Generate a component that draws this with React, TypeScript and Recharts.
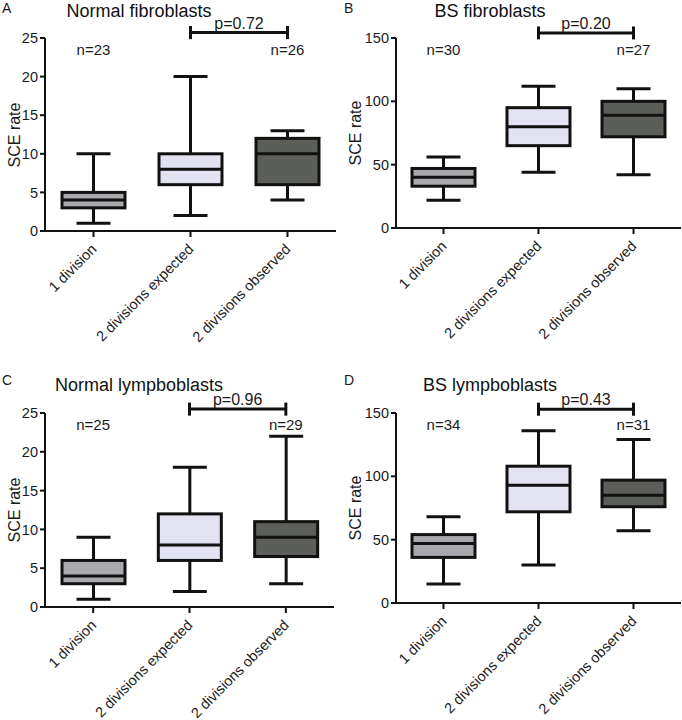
import React from "react";
import { Bar, ComposedChart, ReferenceDot, ReferenceLine, XAxis, YAxis } from "recharts";

const categories = ["1 division", "2 divisions expected", "2 divisions observed"];

// five-number summaries per category: [min, q1, median, q3, max]
const normalFibroblasts = [
  [1, 3, 4, 5, 10],
  [2, 6, 8, 10, 20],
  [4, 6, 10, 12, 13],
];
const bsFibroblasts = [
  [22, 33, 40, 47, 56],
  [44, 65, 80, 95, 112],
  [42, 72, 89, 100, 110],
];
const normalLymphoblasts = [
  [1, 3, 4, 6, 9],
  [2, 6, 8, 12, 18],
  [3, 6.5, 9, 11, 22],
];
const bsLymphoblasts = [
  [15, 36, 47, 54, 68],
  [30, 72, 93, 108, 136],
  [57, 76, 85, 97, 129],
];

// n shown above "1 division" and "2 divisions observed"
const nNormalFib = [23, 26];
const nBsFib = [30, 27];
const nNormalLym = [25, 29];
const nBsLym = [34, 31];

const pValues = ["0.72", "0.20", "0.96", "0.43"];
const titles = ["Normal fibroblasts", "BS fibroblasts", "Normal lympboblasts", "BS lympboblasts"];
const letters = ["A", "B", "C", "D"];

const ticks25 = [0, 5, 10, 15, 20, 25];
const ticks150 = [0, 50, 100, 150];

const boxFills = ["#a9a9ad", "#e2e2f1", "#5c5e59"];
const ink = "#111";
const textColor = "#1a1a1a";
const font = '"Liberation Sans", Arial, sans-serif';

function BoxShape(props: any) {
  const { x, y, width, height, payload } = props;
  const [mn, q1, med, q3, mx] = payload.stats;
  const py = (v: number) => y + (height * (mx - v)) / (mx - mn);
  const cx = x + width / 2;
  const cap = 17;
  return (
    <g stroke={ink} strokeWidth={3}>
      <line x1={cx} x2={cx} y1={py(mx)} y2={py(q3)} />
      <line x1={cx} x2={cx} y1={py(q1)} y2={py(mn)} />
      <line x1={cx - cap} x2={cx + cap} y1={py(mx)} y2={py(mx)} />
      <line x1={cx - cap} x2={cx + cap} y1={py(mn)} y2={py(mn)} />
      <rect x={x} y={py(q3)} width={width} height={py(q1) - py(q3)} fill={payload.fill} />
      <line x1={x} x2={x + width} y1={py(med)} y2={py(med)} />
    </g>
  );
}

function RotatedTick({ x, y, payload }: any) {
  const ax = x + 4;
  const ay = y + 11;
  return (
    <text
      x={ax}
      y={ay}
      transform={`rotate(-45 ${ax} ${ay})`}
      textAnchor="end"
      fontSize={14.5}
      fontFamily={font}
      fill={textColor}
    >
      {payload.value}
    </text>
  );
}

const panels = [
  { stats: normalFibroblasts, n: nNormalFib, left: 0, top: 0, margin: { top: 38, right: 5, bottom: 29, left: 20 }, domain: [0, 25], ticks: ticks25, pY: 25.7, pH: 0.85, nY: 23.5, titleY: 17 },
  { stats: bsFibroblasts, n: nBsFib, left: 341, top: 0, margin: { top: 38, right: 1, bottom: 32, left: 30 }, domain: [0, 150], ticks: ticks150, pY: 154, pH: 5.1, nY: 141, titleY: 17 },
  { stats: normalLymphoblasts, n: nNormalLym, left: 0, top: 360, margin: { top: 53, right: 7, bottom: 13, left: 20 }, domain: [0, 25], ticks: ticks25, pY: 25.5, pH: 0.84, nY: 23.5, titleY: 31 },
  { stats: bsLymphoblasts, n: nBsLym, left: 341, top: 360, margin: { top: 53, right: 1, bottom: 17, left: 30 }, domain: [0, 150], ticks: ticks150, pY: 153, pH: 5.15, nY: 140.8, titleY: 31 },
];

function Panel({ idx }: { idx: number }) {
  const p = panels[idx];
  const data = categories.map((c, i) => ({ name: c, stats: p.stats[i], fill: boxFills[i] }));
  const plotTop = p.margin.top;
  const plotBottom = 360 - p.margin.bottom - 100;
  const nLabel = (v: number) => ({ value: `n=${v}`, position: "center" as const, fontSize: 15, fill: textColor, fontFamily: font });
  return (
    <div style={{ position: "absolute", left: p.left, top: p.top, width: 341, height: 360 }}>
      <ComposedChart width={341} height={360} data={data} margin={p.margin}>
        <XAxis
          dataKey="name"
          type="category"
          height={100}
          interval={0}
          tick={<RotatedTick />}
          tickSize={6}
          axisLine={{ stroke: ink, strokeWidth: 2 }}
          tickLine={{ stroke: ink, strokeWidth: 2 }}
        />
        <YAxis
          type="number"
          domain={p.domain}
          ticks={p.ticks}
          width={25}
          tickSize={5}
          tick={{ fontSize: 14.5, fill: textColor, fontFamily: font }}
          axisLine={{ stroke: ink, strokeWidth: 2 }}
          tickLine={{ stroke: ink, strokeWidth: 2 }}
          allowDataOverflow
        />
        <Bar
          dataKey={(d: any) => [d.stats[0], d.stats[4]]}
          barSize={63}
          shape={<BoxShape />}
          isAnimationActive={false}
        />
        <ReferenceLine
          segment={[{ x: categories[1], y: p.pY }, { x: categories[2], y: p.pY }]}
          stroke={ink}
          strokeWidth={3}
          ifOverflow="visible"
          label={{ value: `p=${pValues[idx]}`, position: "top", offset: 4, fontSize: 16, fill: textColor, fontFamily: font }}
        />
        <ReferenceLine
          segment={[{ x: categories[1], y: p.pY - p.pH }, { x: categories[1], y: p.pY + p.pH }]}
          stroke={ink}
          strokeWidth={3}
          ifOverflow="visible"
        />
        <ReferenceLine
          segment={[{ x: categories[2], y: p.pY - p.pH }, { x: categories[2], y: p.pY + p.pH }]}
          stroke={ink}
          strokeWidth={3}
          ifOverflow="visible"
        />
        <ReferenceDot x={categories[0]} y={p.nY} r={1} fill="none" stroke="none" ifOverflow="visible" label={nLabel(p.n[0])} />
        <ReferenceDot x={categories[2]} y={p.nY} r={1} fill="none" stroke="none" ifOverflow="visible" label={nLabel(p.n[1])} />
      </ComposedChart>
      <div
        style={{
          position: "absolute",
          left: idx % 2 === 0 ? 2 : 3,
          top: idx < 2 ? 0 : 12,
          fontSize: 14,
          fontFamily: font,
          color: textColor,
          lineHeight: "16px",
        }}
      >
        {letters[idx]}
      </div>
      <div
        style={{
          position: "absolute",
          left: idx % 2 === 0 ? 139 : 149,
          top: p.titleY - 15,
          transform: "translateX(-50%)",
          whiteSpace: "nowrap",
          fontSize: 18,
          fontFamily: font,
          color: "#111",
          lineHeight: "18px",
        }}
      >
        {titles[idx]}
      </div>
      <div
        style={{
          position: "absolute",
          left: 15,
          top: (plotTop + plotBottom) / 2,
          transform: "translate(-50%, -50%) rotate(-90deg)",
          whiteSpace: "nowrap",
          fontSize: 16,
          fontFamily: font,
          color: textColor,
        }}
      >
        SCE rate
      </div>
    </div>
  );
}

export default function App() {
  return (
    <div style={{ position: "absolute", left: 0, top: 0, width: 682, height: 720, background: "#fff" }}>
      {[0, 1, 2, 3].map((i) => (
        <Panel key={i} idx={i} />
      ))}
    </div>
  );
}
